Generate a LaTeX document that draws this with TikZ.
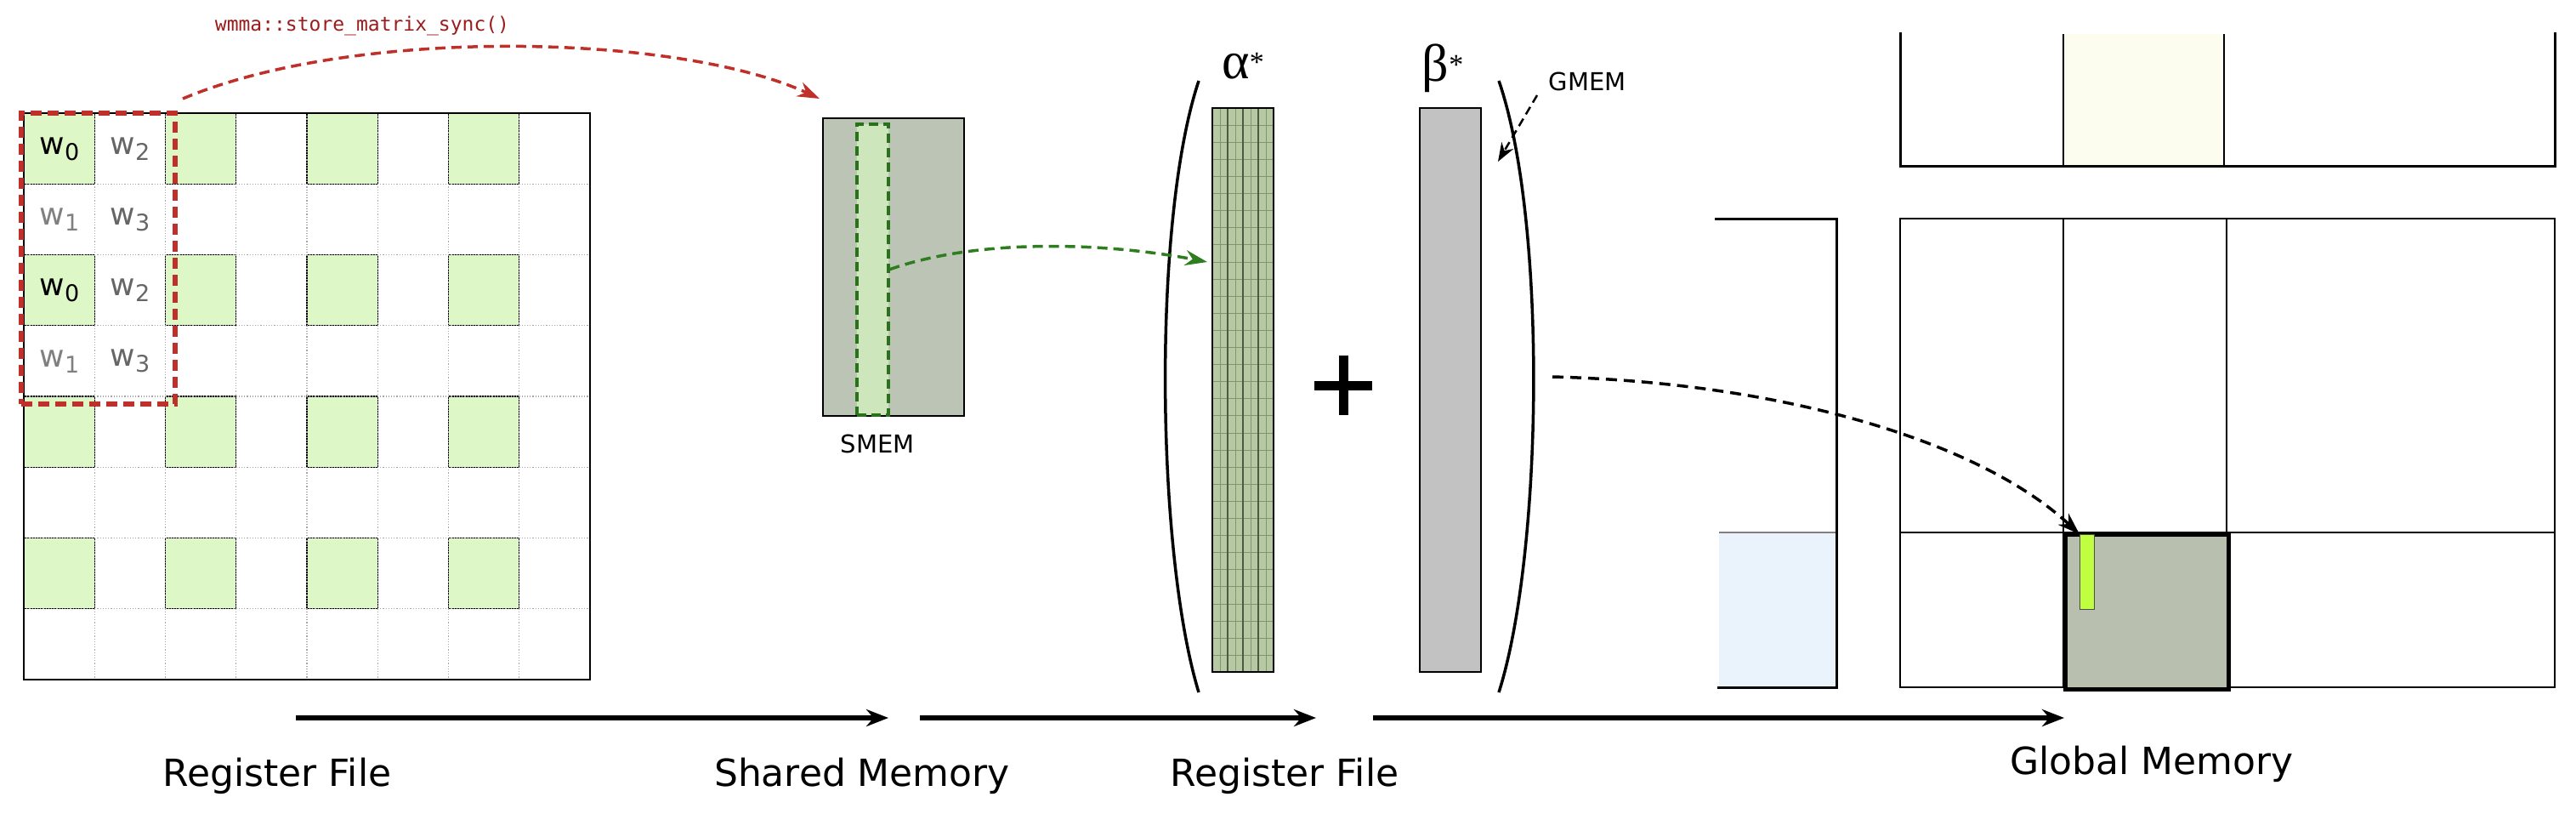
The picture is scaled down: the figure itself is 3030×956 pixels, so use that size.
\documentclass[tikz,border=0pt]{standalone}
\usepackage{fontspec}
\setmainfont{DejaVu Sans}
\newfontfamily\monof{DejaVu Sans Mono}
\newfontfamily\greekf{Liberation Serif}
\usetikzlibrary{arrows.meta}
\definecolor{cellgreen}{HTML}{DEF7C6}
\definecolor{smemfill}{HTML}{BCC5B5}
\definecolor{stripfill}{HTML}{CDE6BC}
\definecolor{alphafill}{HTML}{B7C9A3}
\definecolor{alphagrid}{HTML}{7F9670}
\definecolor{betafill}{HTML}{C2C2C2}
\definecolor{redd}{HTML}{C0302A}
\definecolor{redtxt}{HTML}{9B1C1C}
\definecolor{darkcell}{HTML}{B8BFAF}
\definecolor{bargreen}{HTML}{BFFF40}
\definecolor{paleyellow}{HTML}{FDFDEF}
\definecolor{paleblue}{HTML}{EAF3FB}
\definecolor{greenarrow}{HTML}{2E7D1E}
\newcommand{\wlab}[2]{\textcolor{#1}{w\raisebox{-7pt}{\fontsize{27}{27}\selectfont #2}}}
\tikzset{
 box/.style={draw=black, line width=2.5pt, inner sep=0pt, outer sep=0pt, anchor=north west},
 gcell/.style={draw=black, line width=1.3pt, fill=cellgreen},
 flow/.style={line width=6pt, -{Stealth[length=26pt,width=20pt]}},
 lbl/.style={font=\fontsize{44}{44}\selectfont},
 small/.style={font=\fontsize{29}{29}\selectfont},
 paren/.style={line width=3.5pt},
 greek/.style={font=\greekf\fontsize{62}{62}\selectfont},
}
\begin{document}
\begin{tikzpicture}[x=1pt,y=-1pt]
\useasboundingbox (0,0) rectangle (3030,956);
% ---------- register file matrix
\fill[white] (28,133) rectangle (694,799);
\foreach \i in {0,2,4,6}{\foreach \j in {0,2,4,6}{
  \draw[gcell] ({28+83.25*\i},{133+83.25*\j}) rectangle ++(83.25,83.25);}}
\foreach \k in {1,...,7}{
  \draw[gray!70, dotted, line width=1.2pt] ({28+83.25*\k},133) -- ({28+83.25*\k},799);
  \draw[gray!70, dotted, line width=1.2pt] (28,{133+83.25*\k}) -- (694,{133+83.25*\k});}
\node[box, minimum width=666pt, minimum height=666pt] (regmat) at (28,133) {};
\foreach \r/\a/\b/\c in {0/black/0/2, 1/gray/1/3, 2/black/0/2, 3/gray/1/3}{
  \node[font=\fontsize{36}{36}\selectfont] (wa\r) at (70,{175+83.25*\r}) {\wlab{\a}{\b}};
  \node[font=\fontsize{36}{36}\selectfont] (wb\r) at (153,{175+83.25*\r}) {\wlab{gray!80!black}{\c}};}
\node[draw=redd, dashed, dash pattern=on 13pt off 7pt, line width=6pt, inner sep=0pt, anchor=north west,
  minimum width=181pt, minimum height=342pt] (redbox) at (22,130) {};
% ---------- SMEM
\node[box, fill=smemfill, minimum width=166pt, minimum height=350pt] (smem) at (968,139) {};
\node[draw=greenarrow!90!black, fill=stripfill, dashed, dash pattern=on 11pt off 6pt, line width=3.5pt,
  inner sep=0pt, anchor=north west, minimum width=37pt, minimum height=342pt] (strip) at (1006,144) {};
\node[small] (smemlbl) at (1032,522) {SMEM};
% red arrow + label
\node[font=\monof\fontsize{23}{23}\selectfont, text=redtxt] (storelbl) at (426,30) {wmma::store\_matrix\_sync()};
\coordinate (redend) at (964,116);
\draw[redd, line width=3.5pt, dash pattern=on 12pt off 7pt, -{Stealth[length=26pt,width=18pt]}]
  ([shift={(6pt,14pt)}]redbox.north east) .. controls (420,30) and (800,40) .. (redend);
% ---------- alpha block
\draw[paren] (1410,95) .. controls (1355,260) and (1360,650) .. (1410,814);
\node[greek] (alphalbl) at (1462,78) {α\raisebox{8pt}{\fontsize{34}{34}\selectfont *}};
\fill[alphafill] (1426,127) rectangle (1498,790);
\foreach \k in {1,...,32}{\draw[alphagrid, line width=0.8pt] (1426,{127+20.1*\k}) -- (1498,{127+20.1*\k});}
\foreach \k in {1,3,5,7}{\draw[alphagrid, line width=0.6pt] ({1426+9*\k},127) -- ({1426+9*\k},790);}
\foreach \k in {1,2,3}{\draw[alphagrid!60!black, line width=1.4pt] ({1426+18*\k},127) -- ({1426+18*\k},790);}
\node[box, minimum width=72pt, minimum height=663pt] (alpha) at (1426,127) {};
\coordinate (greentip) at (1420,308);
\draw[greenarrow, line width=3.5pt, dash pattern=on 12pt off 7pt, -{Stealth[length=26pt,width=18pt]}]
  (strip.east) .. controls (1150,280) and (1300,285) .. (greentip);
% plus
\coordinate (plusc) at (1580,453);
\draw[line width=11pt] ([xshift=-34pt]plusc) -- ([xshift=34pt]plusc)
  ([yshift=-35pt]plusc) -- ([yshift=35pt]plusc);
% beta
\node[box, fill=betafill, minimum width=72pt, minimum height=663pt] (beta) at (1670,127) {};
\node[greek] (betalbl) at (1697,80) {β\raisebox{8pt}{\fontsize{34}{34}\selectfont *}};
\draw[paren] (1763,95) .. controls (1820,260) and (1815,650) .. (1763,814);
\node[small, anchor=west] (gmemlbl) at (1818,96) {GMEM};
\coordinate (gmemtip) at (1762,190);
\draw[line width=2.5pt, dash pattern=on 10pt off 6pt, -{Stealth[length=22pt,width=16pt]}]
  (1808,112) -- (gmemtip);
% ---------- global memory
\fill[paleyellow] (2427,40) rectangle (2616,195);
\draw[line width=3pt] (2235,38) -- (2235,195) -- (3005,195) -- (3005,38);
\draw[line width=1.3pt] (2427,40) -- (2427,195) (2616,40) -- (2616,195);
\fill[paleblue] (2022,626) rectangle (2160,808);
\draw[gray, line width=1.3pt] (2022,626) -- (2160,626);
\draw[line width=3pt] (2017,257) -- (2160,257) -- (2160,808) -- (2020,808);
\node[box, minimum width=770pt, minimum height=551pt] (gmat) at (2235,257) {};
\draw[line width=1.3pt] (2427,257) -- (2427,808) (2619,257) -- (2619,808) (2235,626) -- (3005,626);
\node[draw=black, line width=5pt, fill=darkcell, inner sep=0pt, anchor=north west,
  minimum width=192pt, minimum height=182pt] (tile) at (2427,626) {};
\node[draw=black!70, line width=1.3pt, fill=bargreen, inner sep=0pt, anchor=north west,
  minimum width=17pt, minimum height=88pt] (bar) at (2446,628) {};
\coordinate (dstart) at (1826,443);
\draw[line width=3.5pt, dash pattern=on 13pt off 8pt, -{Stealth[length=26pt,width=18pt]}]
  (dstart) .. controls (2100,450) and (2330,520) .. (bar.north west);
% ---------- flow arrows and labels
\coordinate (f1a) at (348,844); \coordinate (f1b) at (1045,844);
\coordinate (f2a) at (1082,844); \coordinate (f2b) at (1548,844);
\coordinate (f3a) at (1615,844); \coordinate (f3b) at (2428,844);
\draw[flow] (f1a) -- (f1b);
\draw[flow] (f2a) -- (f2b);
\draw[flow] (f3a) -- (f3b);
\node[lbl] (l1) at (326,912) {Register File};
\node[lbl] (l2) at (1014,912) {Shared Memory};
\node[lbl] (l3) at (1511,912) {Register File};
\node[lbl] (l4) at (2531,898) {Global Memory};
\end{tikzpicture}
\end{document}
